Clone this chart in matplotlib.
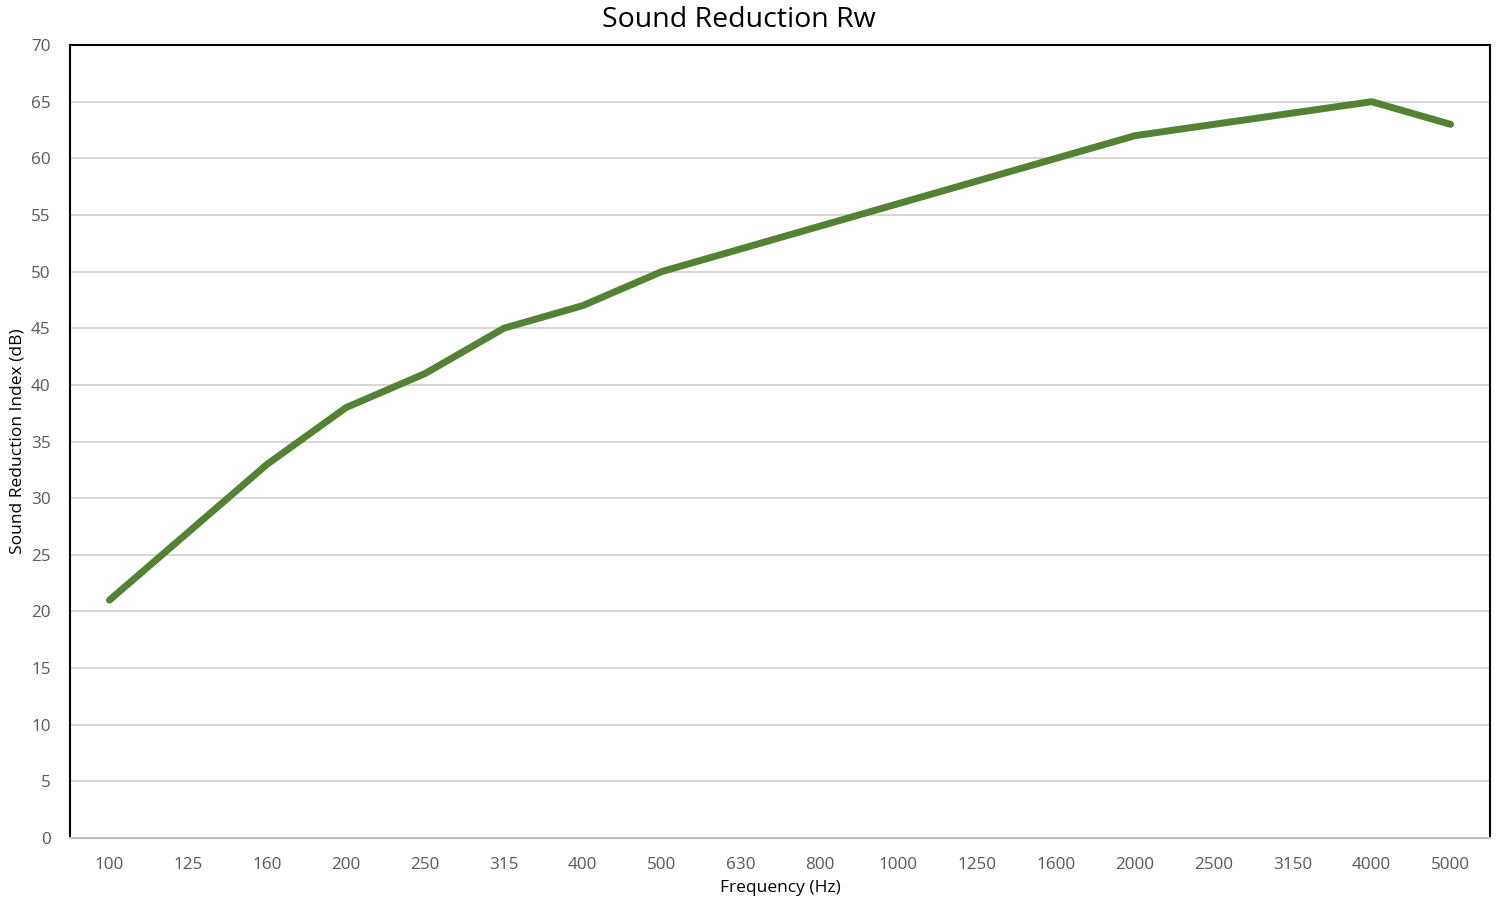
import matplotlib
matplotlib.use("Agg")
import matplotlib.pyplot as plt

# Frequenzbaender und Messwerte
frequencies = ["100", "125", "160", "200", "250", "315", "400", "500", "630",
               "800", "1000", "1250", "1600", "2000", "2500", "3150", "4000", "5000"]
reduction_db = [21, 27, 33, 38, 41, 45, 47, 50, 52, 54, 56, 58, 60, 62, 63, 64, 65, 63]
y_ticks = list(range(0, 75, 5))

plt.rcParams["font.family"] = ["Open Sans", "DejaVu Sans"]

fig = plt.figure(figsize=(14.99, 9.01), dpi=100)
ax = fig.add_axes([0.0467, 0.0699, 0.9473, 0.8801])

x = list(range(len(frequencies)))
ax.plot(x, reduction_db, color="#548235", linewidth=5, solid_capstyle="round",
        solid_joinstyle="miter", zorder=3)

ax.set_xlim(-0.5, len(frequencies) - 0.5)
ax.set_ylim(0, 70)
ax.set_yticks(y_ticks)
ax.set_xticks(x)
ax.set_xticklabels(frequencies)
ax.tick_params(axis="both", length=0, labelsize=12.3, colors="#595959")
ax.tick_params(axis="x", pad=14)
ax.tick_params(axis="y", pad=14)

ax.grid(axis="y", color="#d0d0d0", linewidth=1.2)
ax.set_axisbelow(True)

for side in ["left", "top", "right"]:
    ax.spines[side].set_color("black")
    ax.spines[side].set_linewidth(1.5)
ax.spines["bottom"].set_color("#bfbfbf")
ax.spines["bottom"].set_linewidth(1.5)

ax.set_title("Sound Reduction Rw", fontsize=20.5, pad=13, x=0.471)
ax.set_xlabel("Frequency (Hz)", fontsize=12.5, labelpad=5)
ax.set_ylabel("Sound Reduction Index (dB)", fontsize=12.5, labelpad=4)

plt.savefig("out.png", dpi=100)
plt.close()
